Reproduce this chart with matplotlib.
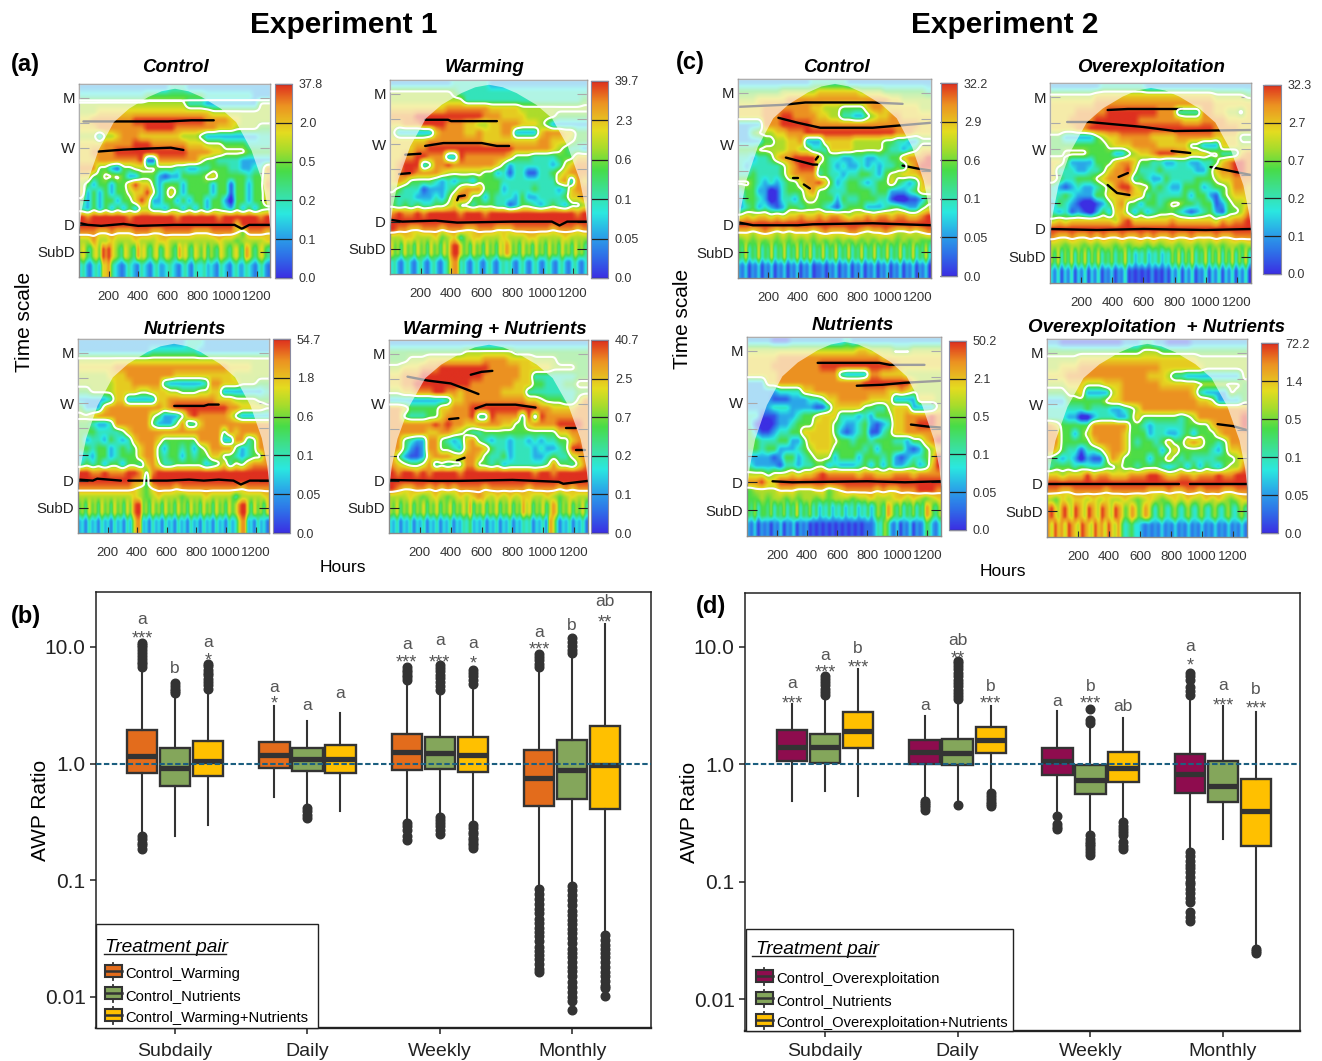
import numpy as np
import matplotlib
matplotlib.use('Agg')
import matplotlib.pyplot as plt
from matplotlib.colors import LinearSegmentedColormap
from matplotlib.lines import Line2D
from matplotlib.patches import Patch, Rectangle
from matplotlib.legend_handler import HandlerBase

plt.rcParams['font.family'] = ['Liberation Sans', 'DejaVu Sans']

# wavelet power, one digit per cell (0 = blue, 9 = red), rows top to bottom
grid_a1 = [
"33333333333333344433333333333333",
"44444444444555555555544444444333",
"66666666666666666644433333333366",
"66677777777777777777776666666666",
"77888888899999999999988887766666",
"77788888888999998888888777666655",
"66636678887777777666533333333344",
"77778888899988888877766655554444",
"77888899999999999988887766665555",
"77788888889228888888655444433333",
"88855325566665554433445554433448",
"77556665335553233555567555554557",
"65355355797753555355553552553558",
"73535355677963575355553552553557",
"53535535579733553535535531553557",
"43535353536644355353535543535355",
"98999999899999998999999899999989",
"99999999999999999999999999799999",
"88877877788877888887778888758887",
"66866766676667766666666766566667",
"675467598976547654867546745765486754765746547654675487546754",
"675467598976547654867546745765486754765746547654675487546754",
"342134277843212432143213422343213421433423214321342243213421",
"342134277843212432143213422343213421433423214321342243213421",
]
grid_a2 = [
"33333333334444443333333333333333",
"66666666665444444444444444444444",
"66666666666644444444444444444445",
"77777777788888887777766666666666",
"88889999999999988877776666655555",
"77888999988877667788877765333333",
"63333337888877877788333378887755",
"77777788888888877777777788777655",
"77778899999999999999888888765443",
"77889988833988888887555444455577",
"78999358898888888753444444346788",
"78998888766666655342442244567888",
"78755554343443555544444444478387",
"65444233345788855534444544434788",
"54443334357985535444353344445778",
"54545445567554555442355434543556",
"89889899999899989999999999999989",
"99999999999999999999999999999999",
"98877888788877888777888888788878",
"66776667567467766676667766667666",
"756475647564756475899756475647564768756475647564756475647564",
"756475647564756475899756475647564768756475647564756475647564",
"342134213421342134788342134213421343421342134213421342134213",
"342134213421342134788342134213421343421342134213421342134213",
]
grid_a3 = [
"33333333333333333344433333333333",
"33333333333344444444333333333333",
"66666666666666666666666666666666",
"77777788888888888888888887777666",
"66666777888888887777777777666666",
"66666677788888433333348877766655",
"55666677776677766555667733333334",
"33333477333337788888888777666655",
"53337888888888789999999998877776",
"66788888888865333589888887533333",
"55433488888853335844788888888888",
"55544445788888888888888858788888",
"53443543478887555555888833884588",
"55455345457885355453568888534588",
"34355345557885455354557755434558",
"45453553554786445555534574657888",
"99889888998589999999999999999999",
"99999999988499999999999999999999",
"88888888876578887888888888878888",
"66666666676567666566676666466667",
"564756475647564758995647564756475647564756475647568996475647",
"564756475647564758995647564756475647564756475647568996475647",
"231423142314231426882314231423142314231423142314236882314231",
"231423142314231426882314231423142314231423142314236882314231",
]
grid_a4 = [
"33333333333333333333333333333333",
"55555555555566666666555555555555",
"55566677777777788887777666655555",
"66777888999999998888877777666655",
"77888999999999988888877444444455",
"77889999999998888888777554445566",
"66778889988788888877774444444455",
"33333333347788888888887765554468",
"88755555778889999999999988777788",
"88544455788889449888849498888888",
"88888889898877888877557888899998",
"88888877887654455555555555577888",
"88543388543478543443443434455788",
"88532388554378875443444343345998",
"85322378887788754453444334544678",
"87655684545588554534444445855468",
"98998989999899999999999899899999",
"99999999999999999999999999999999",
"98778878787888878888887888878788",
"66676567656767876767677667656766",
"657465746574657465746575846574657465746586746574687465746574",
"657465746574657465746575846574657465746586746574687465746574",
"324132413241324132413243523241324132413243413241874132413241",
"324132413241324132413243523241324132413243413241874132413241",
]
grid_c1 = [
"33333333333344444433333333333333",
"55555556666667777777666655555554",
"66677777888888888888888887766666",
"77778888888877666555578877777766",
"77778889988887766443356778877777",
"33338889999988888888888888888877",
"33566677888999999999999999888777",
"33335566778333777776666655443355",
"55566666776644477776666654434577",
"44344578899997544334433445578889",
"43444445789995543433434344547899",
"44544445788884544344554356677788",
"66543434557889753455434557543478",
"45533124555785544455554553334576",
"35543124435665553544555442112235",
"34534323554555432455533345543356",
"67677676778778788767787887887789",
"99999999999999999999999999999999",
"77678767677767877788767787667678",
"56565656565656565656565656565655",
"547354735473547354736473547354735473547354735473547354735473",
"547354735473547354736473547354735473547354735473547354735473",
"213021302130213021302130112021302130213021302130213021302130",
"213021302130213021302130112021302130213021302130213021302130",
]
grid_c2 = [
"33333333444444433333333333333333",
"66666667777777777777777777666665",
"77777778888888888888888888777777",
"77778888899999999888444488776657",
"77788889999999888888877788887777",
"77778899999999999999999999888877",
"55333335677888887777888888777755",
"55555555567778888777775533377766",
"55666655553356778999887776644478",
"77533335557887554433443344578998",
"74443344578896444544444335788998",
"75445556788874543354444555677888",
"43234334568997664543355534556887",
"44543335577787745444453553256777",
"35432112357855355456655455235667",
"43423213537753534555432345325568",
"67677777776897777778777777687889",
"99999999999999999999999999999999",
"87787787877877878778778777877888",
"66566565665656656566566565656656",
"647364736473647354635473524352435243647364735473647364736473",
"647364736473647354635473524352435243647364735473647364736473",
"314031403140314021302140101010201020314031402140314031403140",
"314031403140314021302140101010201020314031402140314031403140",
]
grid_c3 = [
"33332223333333334333333333333333",
"66666666666666666677666655566666",
"77777888888888888888887777777777",
"77778888888899999999999987777777",
"77777888888888843333887777666666",
"33377888888888888889999999976666",
"33333444477888888888888778766666",
"33332223334457788888777733337776",
"33334443333224777775544677733336",
"44222333455677744434355577888898",
"42112334555777543345323477889998",
"53223445577777532345224577888888",
"55444553357777655455455544355789",
"55455333456777555554535555323567",
"33332355345666355535554532344569",
"43333244344553433345353533453479",
"66656667677898888878877788878888",
"88977999999999999999999999999999",
"56666777666775678888878778889998",
"55656656566565666566766677676567",
"546355463546354735463524352435243524352465487546354635487546",
"546355463546354735463524352435243524352465487546354635487546",
"213021202130213021201010101010101010111243652130213021254213",
"213021202130213021201010101010101010111243652130213021254213",
]
grid_c4 = [
"33222222222233344332222333333333",
"55555555555555566655555555555555",
"66666777777777777777777766666666",
"66777888888888888877777776666666",
"77788888888888887776443333333336",
"66677766677788888877777766666665",
"55566733336788888888888743333655",
"33355555567788888888888877633335",
"44444454443345688888888888888888",
"44433113444335755555545688888889",
"87555558888885543444445555788889",
"88553568888875553443345355578888",
"88555557888875455457557875545888",
"87544244578875555535755555435778",
"54343132258755553557545444455567",
"45554544455655455543453535435668",
"77677797887778889987788788898899",
"99999999999999999999999999999999",
"88778888878888887778778878887788",
"65767767676676567656767667676567",
"897689769876987698769875687568753564356435643564356435643564",
"897689769876987698769875687568753564356435643564356435643564",
"869786987698769786976853453321212131213121312131213121312131",
"869786987698769786976853453321212131213121312131213121312131",
]

panel_grids = [grid_a1, grid_a2, grid_a3, grid_a4, grid_c1, grid_c2, grid_c3, grid_c4]
panel_titles = ['Control', 'Warming', 'Nutrients', 'Warming + Nutrients',
                'Control', 'Overexploitation', 'Nutrients', 'Overexploitation  + Nutrients']
title_px = [(175, 68), (485, 68), (185, 329), (495, 329), (836, 68), (1151, 68), (853, 326), (1156, 327)]
# white contour is dropped above this fraction where the picture has no line across the top
contour_from = [.085, 0, 0, 0, .12, 0, .07, 0]
cbar_labels = [
    ['0.0', '0.1', '0.2', '0.5', '2.0', '37.8'],
    ['0.0', '0.05', '0.1', '0.6', '2.3', '39.7'],
    ['0.0', '0.05', '0.1', '0.6', '1.8', '54.7'],
    ['0.0', '0.1', '0.2', '0.7', '2.5', '40.7'],
    ['0.0', '0.05', '0.1', '0.6', '2.9', '32.2'],
    ['0.0', '0.1', '0.2', '0.7', '2.7', '32.3'],
    ['0.0', '0.05', '0.1', '0.5', '2.1', '50.2'],
    ['0.0', '0.05', '0.1', '0.5', '1.4', '72.2'],
]
# left, right, top, bottom in pixels: plot then colour bar
panel_px = [(79, 270, 84, 277), (390, 587, 80, 274), (78, 269, 339, 533), (389, 588, 340, 533),
            (738, 931, 79, 278), (1050, 1251, 83, 283), (747, 941, 337, 536), (1047, 1247, 339, 537)]
cbar_px = [(275, 292, 84, 278), (591, 608, 81, 278), (273, 290, 339, 533), (591, 608, 340, 533),
           (941, 957, 83, 276), (1263, 1281, 85, 274), (949, 966, 341, 530), (1261, 1278, 343, 533)]

# ridges (hours, fraction of panel height from the top)
ridges = [
    [[(30, .194), (250, .194), (600, .194), (760, .188), (910, .188)],
     [(130, .35), (300, .34), (450, .335), (620, .33), (705, .342)],
     [(0, .72), (60, .73), (150, .735), (300, .725), (400, .735), (640, .73), (1050, .73), (1100, .75), (1150, .73), (1290, .73)]],
    [[(230, .205), (380, .205), (400, .212), (700, .212)],
     [(230, .34), (350, .325), (600, .325), (700, .34), (780, .34)],
     [(100, .385), (200, .38)], [(60, .485), (130, .48)],
     [(440, .62), (450, .6), (490, .595)],
     [(0, .72), (80, .73), (300, .725), (440, .735), (800, .73), (1060, .73), (1110, .75), (1160, .73), (1290, .73)]],
    [[(650, .345), (850, .345), (880, .338), (950, .338)],
     [(10, .725), (100, .73), (130, .72), (290, .73)],
     [(340, .73), (600, .73), (750, .725), (850, .73), (950, .725), (1050, .73), (1100, .75), (1160, .73), (1290, .73)]],
    [[(120, .19), (250, .21), (400, .225), (500, .255), (580, .28)],
     [(530, .18), (600, .165), (670, .16)],
     [(560, .355), (630, .335), (820, .335), (950, .35)],
     [(390, .41), (450, .405)], [(1150, .455), (1210, .455)], [(1210, .57), (1270, .57)],
     [(440, .625), (490, .61)],
     [(0, .725), (300, .73), (450, .73), (800, .725), (1100, .735), (1130, .745), (1290, .73)]],
    [[(0, .14), (300, .13), (450, .118), (900, .118), (1100, .125)],
     [(270, .195), (400, .22), (550, .245), (900, .245), (1290, .22)],
     [(320, .395), (500, .43), (530, .43)], [(520, .405), (535, .39)],
     [(370, .5), (400, .5)], [(440, .53), (480, .55)],
     [(1100, .435), (1200, .45), (1290, .46)],
     [(0, .72), (100, .735), (400, .735), (500, .73), (900, .725), (1290, .735)]],
    [[(370, .135), (500, .13), (850, .13)],
     [(110, .195), (250, .195), (600, .22), (800, .24), (1290, .235)],
     [(780, .34), (900, .35)], [(1030, .42), (1290, .46)],
     [(440, .47), (500, .45)], [(370, .51), (430, .55), (510, .56)],
     [(0, .73), (300, .735), (600, .73), (1000, .735), (1290, .73)]],
    [[(470, .13), (880, .13), (950, .14), (1180, .14)],
     [(730, .245), (900, .24), (1050, .23), (1290, .22)],
     [(1090, .44), (1200, .45), (1290, .455)],
     [(170, .725), (300, .73), (800, .725), (1050, .73), (1290, .725)]],
    [[(1100, .43), (1200, .44), (1290, .46)],
     [(0, .73), (300, .73), (850, .73)], [(920, .73), (1290, .73)]],
]

# edge of the cone of influence, left half (fractions)
coi_x = [0, .012, .04, .10, .18, .26, .36, .43, .5]
coi_y = [.75, .65, .51, .34, .195, .125, .065, .035, .022]

scale_ticks = [.07, .2, .33, .46, .6, .73, .87]
scale_labels = ['M', '', 'W', '', '', 'D', 'SubD']
hour_ticks = [200, 400, 600, 800, 1000, 1200]

wave_cmap = LinearSegmentedColormap.from_list('wave', [
    (0, '#3b2fe3'), (.11, '#2f6fe8'), (.22, '#2aa7e8'), (.33, '#2be8e0'), (.44, '#3ce09a'),
    (.55, '#48dc48'), (.66, '#a8dc2c'), (.75, '#e4dc20'), (.89, '#ec9222'), (.97, '#e2481f'), (1, '#de301f')])

# box plot values in the order Subdaily x3, Daily x3, Weekly x3, Monthly x3
groups = ['Subdaily', 'Daily', 'Weekly', 'Monthly']
b_q1 = [.83, .64, .79, .91, .87, .83, .88, .90, .85, .43, .50, .41]
b_med = [1.16, .92, 1.05, 1.19, 1.09, 1.09, 1.27, 1.24, 1.19, .76, .88, .97]
b_q3 = [1.93, 1.35, 1.56, 1.54, 1.35, 1.43, 1.78, 1.69, 1.69, 1.30, 1.6, 2.1]
b_lo = [.24, .24, .30, .52, .45, .39, .32, .36, .30, .086, .09, .034]
b_hi = [6.6, 3.9, 4.2, 3.1, 2.3, 2.74, 4.95, 4.2, 4.6, 6.4, 8.4, 15.6]
b_fliers = [
    [10.9, 10.4, 9.9, 9.4, 8.9, 8.4, 7.9, 7.5, 7.1, 6.7, .24, .225, .21, .2, .185],
    [4.9, 4.6, 4.4, 4.2, 4.0],
    [7.2, 6.8, 6.4, 6, 5.7, 5.3, 5, 4.7, 4.4],
    [],
    [.42, .39, .36, .34],
    [],
    [6.7, 6.4, 6.1, 5.8, 5.5, 5.2, .31, .29, .27, .24, .22],
    [7, 6.6, 6.2, 5.8, 5.4, 5, 4.6, 4.3, .35, .33, .31, .29, .27, .25],
    [6.4, 6, 5.6, 5.2, 4.8, .3, .28, .26, .25, .23, .22, .21, .2, .19],
    [8.7, 8.2, 7.7, 7.2, 6.7, .084, .076, .069, .063, .057, .052, .047, .043, .039, .036, .033, .030, .027, .025, .023, .021, .019, .0175, .0165],
    [12, 11, 10.2, 9.5, 8.8, .09, .082, .075, .068, .061, .055, .05, .046, .042, .038, .035, .032, .029, .026, .024, .022, .02, .018, .0166, .015, .0135, .0122, .011, .01, .0092, .0077],
    [.034, .031, .028, .026, .024, .022, .02, .018, .0165, .015, .0138, .0125, .012, .0102],
]
b_letters = ['a', 'b', 'a', 'a', 'a', 'a', 'a', 'a', 'a', 'a', 'b', 'ab']
b_letter_y = [17.3, 6.56, 10.9, 4.5, 3.18, 3.98, 10.5, 11.3, 10.8, 13.4, 15.4, 24.3]
b_stars = ['***', '', '*', '*', '', '', '***', '***', '*', '***', '', '**']
b_star_y = [12.6, 0, 8.2, 3.5, 0, 0, 7.95, 7.95, 7.7, 10.3, 0, 17.3]

d_q1 = [1.07, 1.03, 1.37, 1.0, .98, 1.25, .81, .56, .71, .57, .48, .20]
d_med = [1.39, 1.39, 1.91, 1.26, 1.25, 1.61, 1.07, .74, .93, .83, .65, .40]
d_q3 = [1.96, 1.81, 2.77, 1.6, 1.65, 2.08, 1.38, .99, 1.27, 1.23, 1.06, .75]
d_lo = [.485, .59, .54, .50, .47, .58, .40, .26, .33, .19, .23, .029]
d_hi = [3.24, 3.9, 6.43, 2.56, 3.5, 3.1, 2.84, 2.2, 2.47, 3.9, 3.1, 2.8]
d_fliers = [
    [],
    [5.65, 5.3, 5, 4.7, 4.4, 4.1, 3.9],
    [],
    [.49, .47, .45, .43, .41],
    [7.6, 7.2, 6.8, 6.4, 6, 5.6, 5.2, 4.9, 4.6, 4.3, 4, 3.8, 3.6, .45],
    [.57, .54, .51, .48, .46, .44],
    [.36, .31, .29, .28],
    [2.94, 2.4, 2.25, .25, .23, .22, .21, .2, .19, .18, .17],
    [.32, .3, .28, .265, .25, .22, .2, .19],
    [6, 5.6, 5.2, 4.5, 4.2, 3.9, .18, .165, .15, .14, .13, .12, .11, .1, .095, .087, .08, .073, .067, .055, .05, .046],
    [],
    [.027, .026, .025],
]
d_letters = ['a', 'a', 'b', 'a', 'ab', 'b', 'a', 'b', 'ab', 'a', 'a', 'b']
d_letter_y = [4.85, 8.46, 9.6, 3.18, 11.3, 4.58, 3.44, 4.6, 3.09, 10.1, 4.7, 4.35]
d_stars = ['***', '***', '***', '', '**', '***', '', '***', '', '*', '***', '***']
d_star_y = [3.53, 6.43, 7.1, 0, 8.6, 3.5, 0, 3.5, 0, 7.4, 3.39, 3.2]

b_names = ['Control_Warming', 'Control_Nutrients', 'Control_Warming+Nutrients']
d_names = ['Control_Overexploitation', 'Control_Nutrients', 'Control_Overexploitation+Nutrients']
b_colors = ['#E36C1C', '#84A65B', '#FFC000']
d_colors = ['#8E0C4E', '#84A65B', '#FFC000']

W, H = 1322, 1061
fig = plt.figure(figsize=(W / 100, H / 100), dpi=100)


def px_axes(left, right, top, bottom):
    return fig.add_axes([left / W, 1 - bottom / H, (right - left) / W, (bottom - top) / H])


def fig_text(x, y, s, **kw):
    fig.text(x / W, 1 - y / H, s, ha=kw.pop('ha', 'center'), va='center', **kw)


def blur(a, size, axis):
    k = np.bartlett(size + 2)[1:-1]
    k = k / k.sum()
    pad = size // 2
    widths = [(0, 0), (0, 0)]
    widths[axis] = (pad, pad)
    a = np.pad(a, widths, mode='edge')
    return np.apply_along_axis(lambda v: np.convolve(v, k, mode='valid'), axis, a)


def fine_grid(rows, nx=330, ny=240):
    xf = (np.arange(nx) + .5) / nx
    yf = (np.arange(ny) + .5) / ny
    wide = []
    for r in rows:
        vals = [int(c) for c in r]
        wide.append(np.interp(xf, (np.arange(len(vals)) + .5) / len(vals), vals))
    wide = np.array(wide)
    yc = (np.arange(len(rows)) + .5) / len(rows)
    out = np.array([np.interp(yf, yc, wide[:, i]) for i in range(nx)]).T
    out = blur(blur(out, 5, 1), 5, 0)
    return out, xf * 1290, yf


for i in range(8):
    left, right, top, bottom = panel_px[i]
    ax = px_axes(left, right, top, bottom)
    img, xs, ys = fine_grid(panel_grids[i])
    # the spots inside the white contours are darker than the smoothing leaves them
    shown = np.where((img < 5) & (ys[:, None] < .82), 5 - (5 - img) * 1.5, img)
    ax.imshow(shown, extent=[0, 1290, 1, 0], aspect='auto', cmap=wave_cmap, vmin=0, vmax=9, interpolation='bilinear')
    for ridge in ridges[i]:
        ax.plot([p[0] for p in ridge], [p[1] for p in ridge], color='black', lw=1.7, solid_capstyle='round', zorder=2)
    # pale veil outside the cone, over the ridges so they turn grey there
    cx = np.array(coi_x + [1 - v for v in coi_x[-2::-1]]) * 1290
    cy = np.array(coi_y + coi_y[-2::-1])
    ax.fill_between(cx, 0, cy, color='white', alpha=.62, lw=0, zorder=3)
    # significance contour, falling away under the daily band so it stays out of the stripes
    sig = blur(blur(img, 9, 1), 7, 0)
    sig = sig - np.clip(ys - .75, 0, None)[:, None] * 60
    sig[ys > .84, :] = 3
    sig[ys < contour_from[i], :] = 9
    ax.contour(xs, ys, sig, levels=[5.6], colors='white', linewidths=1.5, zorder=4)
    ax.set_xlim(0, 1290)
    ax.set_ylim(1, 0)
    ax.set_xticks(hour_ticks)
    ax.set_yticks(scale_ticks)
    ax.set_yticklabels(scale_labels)
    ax.tick_params(axis='x', direction='in', length=4, width=.8, labelsize=9.5, pad=10, colors='#333333')
    ax.tick_params(axis='y', direction='in', length=7, width=.8, labelsize=10.8, pad=3, right=True, colors='#222222')
    for s in ax.spines.values():
        s.set_color('#8a8a8a')
        s.set_linewidth(1)
    fig_text(title_px[i][0], title_px[i][1], panel_titles[i], fontsize=13.5, fontweight='bold', fontstyle='italic')

    cl, cr, ct, cb = cbar_px[i]
    cax = px_axes(cl, cr, ct, cb)
    cax.imshow(np.linspace(1, 0, 256)[:, None], extent=[0, 1, 0, 5], aspect='auto', cmap=wave_cmap, vmin=0, vmax=1)
    cax.set_xticks([])
    cax.set_yticks(range(6))
    cax.set_yticklabels(cbar_labels[i])
    cax.tick_params(axis='y', left=False, labelleft=False, right=True, labelright=True, direction='in',
                    length=12, width=.9, labelsize=9, pad=5, colors='#222222', labelcolor='#333333')
    for s in cax.spines.values():
        s.set_color('#8a8aa0')
        s.set_linewidth(.8)


class BoxKey(HandlerBase):
    def create_artists(self, legend, orig, x, y, w, h, fontsize, trans):
        cx = x + w / 2
        whisk = Line2D([cx, cx], [y - 2, y + h + 2], color='#333333', lw=1.3, transform=trans)
        box = Rectangle((x, y), w, h, facecolor=orig.get_facecolor(), edgecolor='#333333', lw=1.5, transform=trans)
        med = Line2D([x, x + w], [y + h / 2, y + h / 2], color='#333333', lw=1.8, transform=trans)
        return [whisk, box, med]


def box_panel(frame, xlim, ylim, colors, names, q1, med, q3, lo, hi, fliers, letters, letter_y, stars, star_y,
              xpad, leg_frame, leg_at, title_up):
    ax = px_axes(*frame)
    pos = [g + off for g in range(1, 5) for off in (-.249, 0, .249)]
    stats = [dict(med=med[i], q1=q1[i], q3=q3[i], whislo=lo[i], whishi=hi[i], fliers=fliers[i]) for i in range(12)]
    parts = ax.bxp(stats, positions=pos, widths=.229, patch_artist=True, showcaps=False,
                   boxprops=dict(edgecolor='#333333', linewidth=1.7),
                   medianprops=dict(color='#333333', linewidth=3.8, solid_capstyle='butt'),
                   whiskerprops=dict(color='#333333', linewidth=1.5),
                   flierprops=dict(marker='o', markersize=6.2, markerfacecolor='#333333', markeredgecolor='#333333'))
    for i, patch in enumerate(parts['boxes']):
        patch.set_facecolor(colors[i % 3])
    ax.axhline(1, color='#1C5F80', lw=1.5, ls=(0, (2.6, 1.2)), zorder=5)
    ax.set_yscale('log')
    ax.set_xlim(*xlim)
    ax.set_ylim(10 ** ylim[0], 10 ** ylim[1])
    ax.set_xticks(range(1, 5))
    ax.set_xticklabels(groups, fontsize=14)
    ax.set_yticks([.01, .1, 1, 10])
    ax.set_yticklabels(['0.01', '0.1', '1.0', '10.0'], fontsize=15)
    ax.minorticks_off()
    ax.tick_params(axis='both', length=4, width=1.1, colors='#222222')
    ax.tick_params(axis='x', pad=xpad)
    ax.set_ylabel('AWP Ratio', fontsize=15, labelpad=-3.5)
    for s in ax.spines.values():
        s.set_color('#222222')
        s.set_linewidth(1.1)
    ax.spines['bottom'].set_linewidth(1.7)
    for i in range(12):
        ax.annotate(letters[i], (pos[i], letter_y[i]), ha='center', va='center', fontsize=12.5, color='#555555')
        if stars[i]:
            ax.annotate(stars[i], (pos[i], star_y[i]), xytext=(0, -3), textcoords='offset points',
                        ha='center', va='center', fontsize=13, color='#555555')
    # legend frame, then the legend itself without its own frame
    fl, fr, ft, fb = leg_frame
    ax.add_patch(Rectangle((fl / W, 1 - fb / H), (fr - fl) / W, (fb - ft) / H, transform=fig.transFigure,
                           facecolor='white', edgecolor='#222222', lw=1, zorder=4.5, clip_on=False))
    handles = [Patch(facecolor=c) for c in colors]
    leg = ax.legend(handles, names, title='Treatment pair', loc='lower left', borderaxespad=0,
                    bbox_to_anchor=(leg_at[0] / W, 1 - leg_at[1] / H), bbox_transform=fig.transFigure,
                    fontsize=10.6, title_fontsize=13.8, frameon=False,
                    handler_map={Patch: BoxKey()}, handlelength=1.15, handleheight=.85, handletextpad=.22,
                    labelspacing=.55, borderpad=0)
    leg.get_title().set_fontstyle('italic')
    leg.get_title().set_y(title_up)
    leg._legend_box.align = 'left'
    return ax


ax_b = box_panel((96, 651, 592, 1028), (.403, 4.595), (-2.266, 1.471), b_colors, b_names, b_q1, b_med, b_q3,
                 b_lo, b_hi, b_fliers, b_letters, b_letter_y, b_stars, b_star_y, 6.5, (96, 318, 924, 1028), (105, 1025), 3)
ax_d = box_panel((745, 1300, 593, 1031), (.397, 4.58), (-2.27, 1.457), d_colors, d_names, d_q1, d_med, d_q3,
                 d_lo, d_hi, d_fliers, d_letters, d_letter_y, d_stars, d_star_y, 5, (746, 1013, 929, 1031), (756, 1030), 6)

# underlines below the two legend titles
fig.add_artist(Line2D([104 / W, 226 / W], [1 - 954 / H, 1 - 954 / H], color='#222222', lw=1, zorder=10))
fig.add_artist(Line2D([752 / W, 875 / W], [1 - 956 / H, 1 - 956 / H], color='#222222', lw=1, zorder=10))

fig_text(344, 25, 'Experiment 1', fontsize=21.5, fontweight='bold')
fig_text(1005, 25, 'Experiment 2', fontsize=21.5, fontweight='bold')
for x, y, s in [(25, 65, '(a)'), (690, 62, '(c)'), (26, 617, '(b)'), (711, 606, '(d)')]:
    fig_text(x, y, s, fontsize=17, fontweight='bold')
fig_text(25, 322, 'Time scale', fontsize=15, rotation=90)
fig_text(682, 319, 'Time scale', fontsize=15, rotation=90)
fig_text(343, 568, 'Hours', fontsize=12.5)
fig_text(1003, 572, 'Hours', fontsize=12.5)

fig.savefig('out.png', dpi=100)
